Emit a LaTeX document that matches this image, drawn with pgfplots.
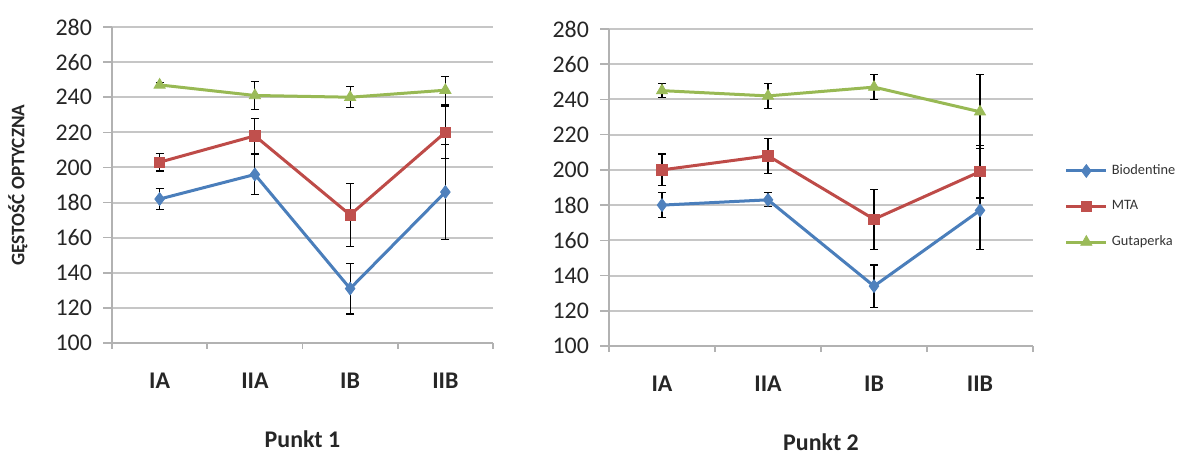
\documentclass[border=0pt]{standalone}
\usepackage{pgfplots}
\pgfplotsset{compat=1.18}
\usepackage{fontspec}
\setmainfont{Carlito}
\definecolor{lblue}{HTML}{4A7EBB}
\definecolor{lred}{HTML}{BE4B48}
\definecolor{lgreen}{HTML}{98B954}
\definecolor{mblue}{HTML}{4F81BD}
\definecolor{mred}{HTML}{C0504D}
\definecolor{mgreen}{HTML}{9BBB59}
\pgfplotsset{
  myaxis/.style={
    scale only axis, anchor=south west,
    xmin=-0.5, xmax=3.5, ymin=100, ymax=280,
    ytick={100,120,...,280},
    xtick={0,1,2,3}, xticklabels={IA,IIA,IB,IIB},
    minor xtick={-0.5,0.5,1.5,2.5,3.5},
    axis lines*=left,
    axis line style={draw=gray!60, line width=0.8bp},
    ymajorgrids, grid style={gray!45, line width=1bp},
    tick align=outside, major tick length=4.5bp, minor tick length=3bp,
    y tick style={gray!60, line width=0.8bp},
    major x tick style={draw=none},
    minor x tick style={gray!60, line width=0.8bp},
    /pgf/number format/assume math mode=true,
    yticklabel style={font=\fontsize{12}{14}\selectfont, text=black!85, xshift=-2bp},
    xticklabel style={font=\bfseries\fontsize{12}{14}\selectfont, text=black!85, yshift=-7bp},
    xlabel style={font=\bfseries\fontsize{12}{14}\selectfont, text=black!85, at={(axis description cs:0.5,-0.303)}, anchor=center},
    error bars/error bar style={black, line width=0.6bp},
    error bars/error mark options={rotate=90, mark size=2bp, black, line width=0.6bp},
  },
  sbio/.style={draw=lblue, line width=1.5bp, mark=diamond*, mark size=3.2bp, mark options={fill=mblue, draw=mblue, line width=0.4bp}},
  smta/.style={draw=lred, line width=1.5bp, mark=square*, mark size=2.6bp, mark options={fill=mred, draw=mred, line width=0.4bp}},
  sgut/.style={draw=lgreen, line width=1.5bp, mark=triangle*, mark size=3.2bp, mark options={fill=mgreen, draw=mgreen, line width=0.4bp}},
}
\pgfplotstableread{
x y e
0 182 6
1 196 11.5
2 131 14.5
3 186 27
}\bioA
\pgfplotstableread{
x y e
0 203 5
1 218 10
2 173 18
3 220 15
}\mtaA
\pgfplotstableread{
x y e
0 247 1.5
1 241 8
2 240 6
3 244 8
}\gutA
\pgfplotstableread{
x y e
0 180 7
1 183 4
2 134 12
3 177 22
}\bioB
\pgfplotstableread{
x y e
0 200 9
1 208 10
2 172 17
3 199 15
}\mtaB
\pgfplotstableread{
x y e
0 245 4
1 242 7
2 247 7
3 233 21
}\gutB
\begin{document}
\begin{tikzpicture}
\path[use as bounding box] (0,0) rectangle (593bp,227bp);
\begin{axis}[myaxis, at={(56bp,55.5bp)}, width=190.5bp, height=158bp,
  xlabel={Punkt 1},
  ylabel={GĘSTOŚĆ OPTYCZNA},
  ylabel style={font=\bfseries\fontsize{9.6}{11}\selectfont, text=black!85, at={(axis description cs:-0.247,0.5)}, anchor=center},
]
\addplot[sbio, error bars/.cd, y dir=both, y explicit] table[x=x, y=y, y error=e] {\bioA};
\addplot[smta, error bars/.cd, y dir=both, y explicit] table[x=x, y=y, y error=e] {\mtaA};
\addplot[sgut, error bars/.cd, y dir=both, y explicit] table[x=x, y=y, y error=e] {\gutA};
\end{axis}
\begin{axis}[myaxis, at={(304.5bp,54bp)}, width=212bp, height=158.5bp,
  xlabel={Punkt 2},
  legend style={at={(1.06,0.44)}, anchor=west, draw=none, fill=none,
    font=\fontsize{7.2}{8.5}\selectfont, row sep=7.5bp, text=black!80},
  legend cell align=left,
  legend image code/.code={\draw[mark repeat=2, mark phase=2, #1] plot coordinates {(0bp,0bp) (10bp,0bp) (20bp,0bp)};},
]
\addplot[sbio, error bars/.cd, y dir=both, y explicit] table[x=x, y=y, y error=e] {\bioB};
\addlegendentry{Biodentine}
\addplot[smta, error bars/.cd, y dir=both, y explicit] table[x=x, y=y, y error=e] {\mtaB};
\addlegendentry{MTA}
\addplot[sgut, error bars/.cd, y dir=both, y explicit] table[x=x, y=y, y error=e] {\gutB};
\addlegendentry{Gutaperka}
\end{axis}
\end{tikzpicture}
\end{document}
